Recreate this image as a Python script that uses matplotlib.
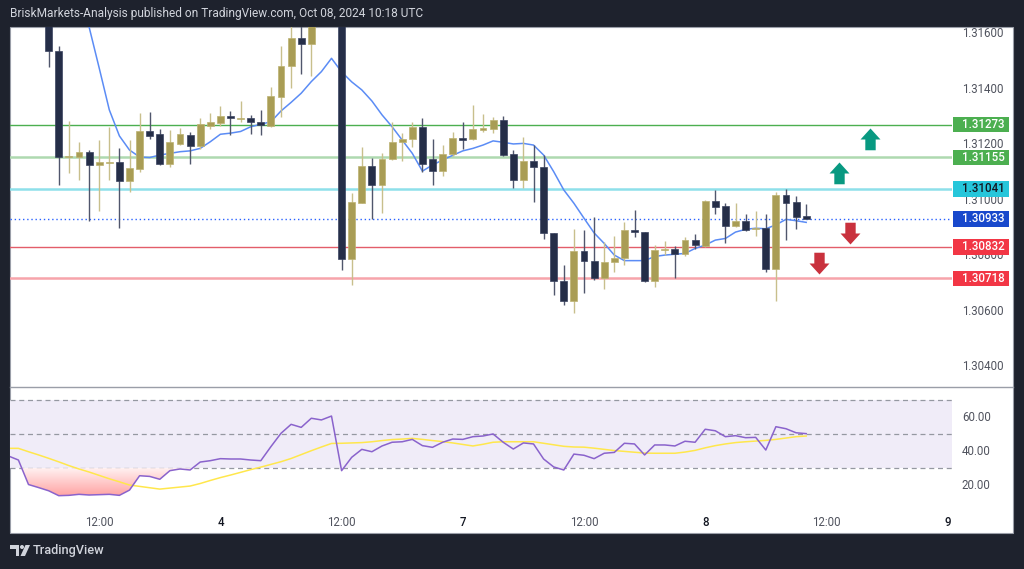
import numpy as np
import matplotlib
matplotlib.use("Agg")
import matplotlib.pyplot as plt
import matplotlib.transforms as mtransforms
from matplotlib.patches import Rectangle, Polygon, Circle
from matplotlib.path import Path
from matplotlib.colors import LinearSegmentedColormap

plt.rcParams['font.family'] = ['Roboto', 'DejaVu Sans']

# ---- data (GBPUSD 1H, bar index 0 = first visible candle) ----
time_ticks = [5, 17, 29, 41, 53, 65, 77, 89]
time_labels = ["12:00", "4", "12:00", "7", "12:00", "8", "12:00", "9"]
day_labels = {"4", "7", "8", "9"}

opens = [1.31723, 1.31540, 1.31156, 1.31157, 1.31175, 1.31127, 1.31133, 1.31137, 1.31069, 1.31113,
         1.31250, 1.31238, 1.31130, 1.31204, 1.31235, 1.31197, 1.31269, 1.31280, 1.31304, 1.31293,
         1.31296, 1.31281, 1.31269, 1.31374, 1.31484, 1.31587, 1.31563, 1.31669, 1.31720, 1.31700,
         1.30787, 1.30991, 1.31123, 1.31055, 1.31148, 1.31209, 1.31220, 1.31263, 1.31149, 1.31105,
         1.31167, 1.31223, 1.31220, 1.31253, 1.31258, 1.31290, 1.31166, 1.31073, 1.31143, 1.31121,
         1.30881, 1.30708, 1.30636, 1.30817, 1.30781, 1.30718, 1.30776, 1.30790, 1.30892, 1.30884,
         1.30708, 1.30820, 1.30824, 1.30805, 1.30856, 1.30836, 1.30998, 1.30979, 1.30908, 1.30925,
         1.30895, 1.30901, 1.30751, 1.31019, 1.30992, 1.30942]
highs = [1.31759, 1.31558, 1.31286, 1.31211, 1.31181, 1.31217, 1.31265, 1.31190, 1.31217, 1.31314,
         1.31320, 1.31257, 1.31253, 1.31260, 1.31247, 1.31296, 1.31314, 1.31341, 1.31322, 1.31358,
         1.31308, 1.31326, 1.31410, 1.31558, 1.31651, 1.31643, 1.31705, 1.31760, 1.31780, 1.31740,
         1.31025, 1.31191, 1.31153, 1.31169, 1.31281, 1.31242, 1.31281, 1.31296, 1.31220, 1.31199,
         1.31247, 1.31281, 1.31344, 1.31311, 1.31299, 1.31304, 1.31181, 1.31229, 1.31199, 1.31163,
         1.30883, 1.30766, 1.30896, 1.30892, 1.30938, 1.30850, 1.30871, 1.30920, 1.30965, 1.30886,
         1.30838, 1.30854, 1.30835, 1.30868, 1.30878, 1.31001, 1.31037, 1.30989, 1.30989, 1.30950,
         1.30961, 1.30950, 1.31031, 1.31039, 1.31015, 1.30986]
lows = [1.31481, 1.31055, 1.31097, 1.31073, 1.30926, 1.30962, 1.31073, 1.30899, 1.31031, 1.31103,
        1.31220, 1.31127, 1.31121, 1.31199, 1.31130, 1.31185, 1.31257, 1.31269, 1.31235, 1.31281,
        1.31238, 1.31235, 1.31265, 1.31301, 1.31406, 1.31455, 1.31449, 1.31650, 1.31680, 1.30748,
        1.30694, 1.30989, 1.30931, 1.30955, 1.31145, 1.31143, 1.31193, 1.31103, 1.31055, 1.31087,
        1.31160, 1.31184, 1.31217, 1.31247, 1.31242, 1.31160, 1.31043, 1.31043, 1.30995, 1.30859,
        1.30658, 1.30622, 1.30592, 1.30664, 1.30712, 1.30679, 1.30740, 1.30766, 1.30868, 1.30706,
        1.30688, 1.30802, 1.30718, 1.30800, 1.30823, 1.30832, 1.30949, 1.30844, 1.30904, 1.30890,
        1.30872, 1.30742, 1.30637, 1.30856, 1.30896, 1.30935]
closes = [1.31539, 1.31157, 1.31161, 1.31175, 1.31127, 1.31137, 1.31138, 1.31069, 1.31115, 1.31250,
          1.31233, 1.31130, 1.31209, 1.31238, 1.31197, 1.31274, 1.31282, 1.31305, 1.31296, 1.31297,
          1.31281, 1.31270, 1.31376, 1.31486, 1.31587, 1.31563, 1.31669, 1.31720, 1.31700, 1.30787,
          1.30992, 1.31123, 1.31055, 1.31148, 1.31211, 1.31220, 1.31263, 1.31131, 1.31105, 1.31167,
          1.31223, 1.31218, 1.31256, 1.31260, 1.31290, 1.31163, 1.31073, 1.31143, 1.31119, 1.30881,
          1.30708, 1.30636, 1.30817, 1.30781, 1.30718, 1.30778, 1.30792, 1.30892, 1.30884, 1.30708,
          1.30820, 1.30823, 1.30805, 1.30856, 1.30837, 1.30998, 1.30977, 1.30908, 1.30925, 1.30892,
          1.30901, 1.30751, 1.31019, 1.30991, 1.30940, 1.30933]

# moving average on price, starts at bar 2
ma_start = 2
ma_values = [1.31921, 1.31777, 1.31625, 1.31477, 1.31326, 1.31232, 1.31181, 1.31156, 1.31154, 1.31163,
             1.31169, 1.31175, 1.31178, 1.31187, 1.31211, 1.31238, 1.31242, 1.31248, 1.31265, 1.31274,
             1.31283, 1.31322, 1.31353, 1.31386, 1.31428, 1.31464, 1.31512, 1.31463, 1.31427, 1.31398,
             1.31358, 1.31308, 1.31265, 1.31217, 1.31169, 1.31105, 1.31127, 1.31145, 1.31162, 1.31178,
             1.31187, 1.31199, 1.31214, 1.31209, 1.31203, 1.31205, 1.31199, 1.31163, 1.31103, 1.31037,
             1.30989, 1.30935, 1.30882, 1.30844, 1.30802, 1.30782, 1.30782, 1.30782, 1.30797, 1.30802,
             1.30805, 1.30808, 1.30826, 1.30838, 1.30856, 1.30862, 1.30885, 1.30895, 1.30899, 1.30897,
             1.30911, 1.30931, 1.30926, 1.30920]

# RSI pane, starts at bar -4
rsi_start = -4
rsi_values = [37.2, 34.8, 20.3, 18.5, 16.6, 13.7, 13.9, 14.5, 14.1, 14.3,
              14.5, 13.9, 17.0, 25.5, 25.1, 23.4, 28.5, 29.5, 28.9, 33.6,
              34.4, 35.6, 35.4, 35.4, 34.8, 34.4, 42.7, 50.6, 55.9, 54.1,
              59.5, 58.5, 60.8, 28.5, 36.4, 41.1, 39.7, 43.1, 45.3, 45.6,
              47.0, 43.3, 42.3, 45.3, 47.2, 47.0, 48.6, 49.0, 50.2, 45.3,
              41.3, 44.9, 44.3, 35.4, 30.7, 28.9, 38.3, 37.6, 35.6, 38.8,
              39.3, 44.7, 44.3, 37.8, 43.7, 43.7, 43.1, 45.9, 45.3, 53.0,
              52.1, 48.6, 49.2, 48.0, 48.2, 40.7, 54.5, 53.3, 50.9, 50.4]
rsi_ma_values = [41.7, 41.7, 39.7, 37.8, 35.8, 33.7, 31.5, 29.5, 27.7, 25.7,
                 23.7, 21.9, 20.0, 19.2, 18.4, 17.6, 18.2, 18.8, 19.4, 20.9,
                 22.7, 24.4, 25.9, 27.5, 29.1, 30.6, 32.2, 33.8, 35.7, 38.0,
                 40.3, 42.5, 44.6, 44.7, 44.9, 45.1, 45.6, 46.3, 46.9, 47.2,
                 47.6, 47.0, 46.3, 45.7, 44.9, 44.0, 43.1, 44.1, 45.3, 45.6,
                 45.6, 45.6, 45.6, 44.7, 43.8, 42.9, 42.5, 42.4, 41.8, 41.1,
                 40.4, 39.9, 39.4, 38.9, 38.8, 38.8, 38.8, 39.5, 40.5, 42.0,
                 43.3, 44.3, 45.1, 45.6, 46.0, 46.4, 47.0, 47.8, 48.6, 49.0]

price_ticks = [1.31600, 1.31400, 1.31200, 1.31000, 1.30800, 1.30600, 1.30400]
rsi_ticks = [60, 40, 20]

levels = [1.31273, 1.31155, 1.31041, 1.30832, 1.30718]
last_price = 1.30933

# drawn arrows: (bar position, price at head base, direction)
arrows = [(81.3, 1.31220, "up"), (78.25, 1.31099, "up"),
          (79.35, 1.30881, "down"), (76.3, 1.30772, "down")]

# ---- styles ----
BG = "#1e222d"
BULL, BULL_WICK = "#a99d55", "#c8bf8c"
BEAR, BEAR_WICK = "#252e48", "#50566c"
level_line_colors = ["#4caf50", "#aed9b0", "#8ee0ea", "#e35d6a", "#f7a4ab"]
level_line_widths = [1.0, 1.8, 1.8, 1.0, 1.8]
level_box_colors = ["#4caf50", "#4caf50", "#26c6da", "#f23645", "#f23645"]
level_text_colors = ["white", "white", "#131722", "white", "white"]
AXIS_TEXT = "#50535e"

W, H = 1024, 569
fig = plt.figure(figsize=(W / 100, H / 100), dpi=100, facecolor=BG)
# pixel transform (y down)
px = mtransforms.Affine2D().scale(1 / W, -1 / H).translate(0, 1) + fig.transFigure

fig.patches.append(Rectangle((10, 27), 1003, 506, transform=px, facecolor="white",
                             edgecolor="#9a9ea8", lw=0.8, zorder=-10))
fig.lines.append(plt.Line2D([10, 1013], [387.5, 387.5], transform=px, color="#9a9ea8",
                            lw=1.0, zorder=-5))

x0_pix, x1_pix = 10, 952
bar0_pix, bar_step = 48.7, 10.1
xlim = ((x0_pix - bar0_pix) / bar_step, (x1_pix - bar0_pix) / bar_step)

ax = fig.add_axes([x0_pix / W, 1 - 387 / H, (x1_pix - x0_pix) / W, 360 / H])
ax2 = fig.add_axes([x0_pix / W, 1 - 506 / H, (x1_pix - x0_pix) / W, 117 / H])
for a in (ax, ax2):
    a.set_facecolor("none")
    for s in a.spines.values():
        s.set_visible(False)
    a.tick_params(length=0)
    a.set_yticks([])

# ---- price pane ----
o, h, l, c = map(np.array, (opens, highs, lows, closes))
xb = np.arange(len(o))
up = c >= o
ax.vlines(xb[up], l[up], h[up], color=BULL_WICK, lw=1.0, zorder=3)
ax.vlines(xb[~up], l[~up], h[~up], color=BEAR_WICK, lw=1.0, zorder=3)
body_lo = np.minimum(o, c)
body_h = np.maximum(np.abs(c - o), 0.00005)
ax.bar(xb[up], body_h[up], bottom=body_lo[up], width=0.68, color=BULL,
       edgecolor="#bdb272", linewidth=0.5, zorder=4)
ax.bar(xb[~up], body_h[~up], bottom=body_lo[~up], width=0.68, color=BEAR,
       edgecolor="#3a4360", linewidth=0.5, zorder=4)

xm = np.arange(ma_start, ma_start + len(ma_values))
ax.plot(xm, ma_values, color="#5b8cf5", lw=1.1, zorder=2)

for lv, lc, lw in zip(levels, level_line_colors, level_line_widths):
    ax.axhline(lv, color=lc, lw=lw, zorder=1)
ax.axhline(last_price, color="#2962ff", lw=1.0, ls=(0, (1, 2)), zorder=1)

up_arrow = Path([(-1, 0), (0, 1.1), (1, 0), (0.52, 0), (0.52, -1.08), (-0.52, -1.08),
                 (-0.52, 0), (-1, 0)], closed=True)
down_arrow = Path([(vx, -vy) for vx, vy in up_arrow.vertices], closed=True)
for ax_x, ax_p, d in arrows:
    if d == "up":
        ax.plot([ax_x], [ax_p], marker=up_arrow, ms=15.8, color="#089981", mew=0, zorder=5)
    else:
        ax.plot([ax_x], [ax_p], marker=down_arrow, ms=15.8, color="#c9313d", mew=0, zorder=5)

ylim_top = 1.31625
ylim_bot = 1.30326
ax.set_xlim(*xlim)
ax.set_ylim(ylim_bot, ylim_top)
ax.set_xticks([])

# price scale
ytr = ax.get_yaxis_transform()
for p in price_ticks:
    ax.text(1.0105, p, f"{p:.5f}", transform=ytr, ha="left", va="center",
            fontsize=8.3, color=AXIS_TEXT, clip_on=False)
box_h = 15.5 * (ylim_top - ylim_bot) / 360
for lv, bc, tc in zip(levels + [last_price], level_box_colors + ["#1848cc"],
                      level_text_colors + ["white"]):
    ax.add_patch(Rectangle((1.0012, lv - box_h / 2), 0.0594, box_h, transform=ytr,
                           facecolor=bc, edgecolor="none", clip_on=False, zorder=6))
    ax.text(1.0105, lv, f"{lv:.5f}", transform=ytr, ha="left", va="center",
            fontsize=8.3, color=tc, clip_on=False, zorder=7, fontweight="medium")

# ---- RSI pane ----
xr = np.arange(rsi_start, rsi_start + len(rsi_values))
rsi = np.array(rsi_values)
ax2.axhspan(30, 70, color="#f0ecf8", lw=0, zorder=0)
for lvl in (70, 50, 30):
    ax2.axhline(lvl, color="#9598a1", lw=0.9, dashes=(4, 3), zorder=1)

os_fill = ax2.fill_between(xr, rsi, 30, where=rsi < 30, interpolate=True,
                           facecolor="none", edgecolor="none")
clip = Path.make_compound_path(*os_fill.get_paths())
grad = np.linspace(0, 1, 256).reshape(-1, 1)
cmap = LinearSegmentedColormap.from_list("os", ["#ff9a9a", "#fff1f1"])
im = ax2.imshow(grad, extent=[xlim[0], xlim[1], 12, 30], origin="lower",
                aspect="auto", cmap=cmap, zorder=1, interpolation="bilinear")
im.set_clip_path(clip, transform=ax2.transData)

ax2.plot(xr, rsi_ma_values, color="#ffe74c", lw=1.1, zorder=2)
ax2.plot(xr, rsi, color="#8a63cc", lw=1.1, zorder=3)

ax2.set_xlim(*xlim)
ax2.set_ylim(7.6, 76.8)
ytr2 = ax2.get_yaxis_transform()
for r in rsi_ticks:
    ax2.text(1.0105, r, f"{r:.2f}", transform=ytr2, ha="left", va="center",
             fontsize=8.3, color=AXIS_TEXT, clip_on=False)

ax2.set_xticks(time_ticks)
ax2.set_xticklabels(time_labels, fontsize=8.3, color=AXIS_TEXT)
ax2.tick_params(axis="x", pad=7)
for lbl in ax2.get_xticklabels():
    if lbl.get_text() in day_labels:
        lbl.set_color("#131722")
        lbl.set_fontweight("medium")

# ---- header / footer ----
fig.text(10 / W, 1 - 13.5 / H,
         "BriskMarkets-Analysis published on TradingView.com, Oct 08, 2024 10:18 UTC",
         color="#d1d4dc", fontsize=8.6, va="center", ha="left")

logo_col = "#d1d4dc"
fig.patches.append(Polygon([(10, 545), (19, 545), (19, 556), (15.5, 556), (15.5, 549), (10, 549)],
                           closed=True, transform=px, facecolor=logo_col, edgecolor="none"))
fig.patches.append(Circle((22, 547), 2.0, transform=px, facecolor=logo_col, edgecolor="none"))
fig.patches.append(Polygon([(25.5, 545), (30, 545), (25, 556), (20.5, 556)],
                           closed=True, transform=px, facecolor=logo_col, edgecolor="none"))
fig.text(33 / W, 1 - 550.5 / H, "TradingView", color=logo_col, fontsize=9.2,
         va="center", ha="left", fontweight="medium")

fig.savefig("out.png", dpi=100, facecolor=BG)
